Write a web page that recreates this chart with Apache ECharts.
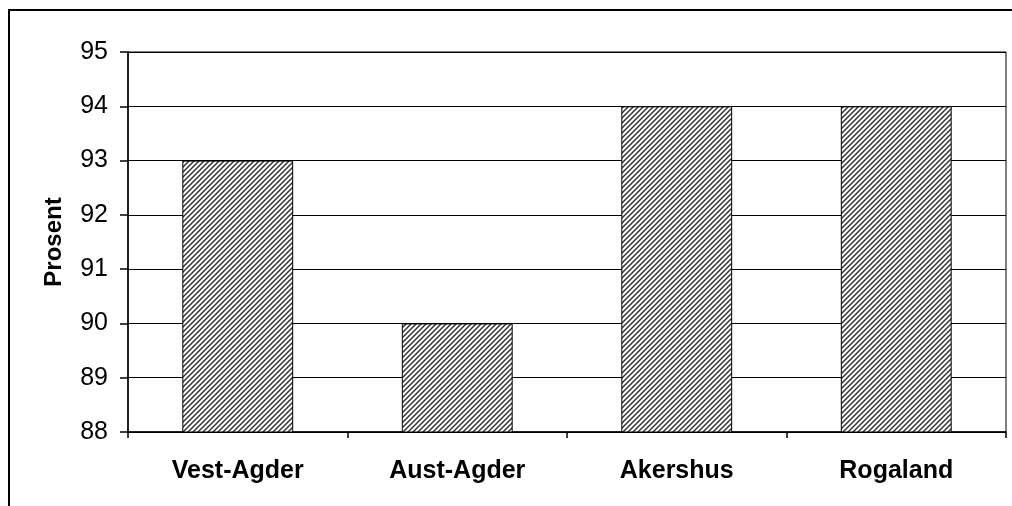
<!DOCTYPE html>
<html>
<head>
<meta charset="utf-8">
<script src="https://cdn.jsdelivr.net/npm/echarts@6/dist/echarts.min.js"></script>
<style>
  html, body { margin: 0; padding: 0; background: #fff; }
  #main { width: 1012px; height: 506px; }
</style>
</head>
<body>
<div id="main"></div>
<script>
var categories = ['Vest-Agder', 'Aust-Agder', 'Akershus', 'Rogaland'];
var values = [93, 90, 94, 94];
var yTicks = [88, 89, 90, 91, 92, 93, 94, 95];

// diagonal hatch fill like the old excel pattern
function makeHatch() {
    var s = 5;
    var c = document.createElement('canvas');
    c.width = s;
    c.height = s;
    var ctx = c.getContext('2d');
    ctx.fillStyle = '#fff';
    ctx.fillRect(0, 0, s, s);
    ctx.strokeStyle = '#333';
    ctx.lineWidth = 1.5;
    ctx.beginPath();
    ctx.moveTo(0, s); ctx.lineTo(s, 0);
    ctx.moveTo(-1, 1); ctx.lineTo(1, -1);
    ctx.moveTo(s - 1, s + 1); ctx.lineTo(s + 1, s - 1);
    ctx.stroke();
    return c;
}

var myChart = echarts.init(document.getElementById('main'));

var option = {
    backgroundColor: '#fff',
    animation: false,
    graphic: [{
        type: 'rect',
        shape: { x: 9, y: 10, width: 1100, height: 600 },
        style: { fill: 'none', stroke: '#000', lineWidth: 2 }
    }],
    grid: {
        left: 128,
        right: 6,
        top: 52,
        bottom: 74,
        show: true,
        borderColor: '#000',
        borderWidth: 1
    },
    xAxis: {
        type: 'category',
        data: categories,
        axisLine: { lineStyle: { color: '#000', width: 1.5 } },
        axisTick: { show: true, length: 6, lineStyle: { color: '#000', width: 1.5 } },
        axisLabel: {
            margin: 27,
            fontFamily: 'Liberation Sans, Arial',
            fontSize: 25,
            fontWeight: 'bold',
            color: '#000'
        }
    },
    yAxis: {
        type: 'value',
        min: yTicks[0],
        max: yTicks[yTicks.length - 1],
        interval: 1,
        name: 'Prosent',
        nameLocation: 'middle',
        nameRotate: 90,
        nameGap: 62,
        nameTextStyle: {
            fontFamily: 'Liberation Sans, Arial',
            fontSize: 24,
            fontWeight: 'bold',
            color: '#000'
        },
        axisLine: { show: true, lineStyle: { color: '#000', width: 1.5 } },
        axisTick: { show: true, length: 8, lineStyle: { color: '#000', width: 1.5 } },
        axisLabel: {
            margin: 20,
            padding: [4, 0, 0, 0],
            fontFamily: 'Liberation Sans, Arial',
            fontSize: 25,
            color: '#000'
        },
        splitLine: { lineStyle: { color: '#000', width: 1 } }
    },
    series: [{
        type: 'bar',
        data: values,
        barWidth: '50.5%',
        itemStyle: {
            color: { image: makeHatch(), repeat: 'repeat' },
            borderColor: '#000',
            borderWidth: 1
        }
    }]
};

myChart.setOption(option);
</script>
</body>
</html>
